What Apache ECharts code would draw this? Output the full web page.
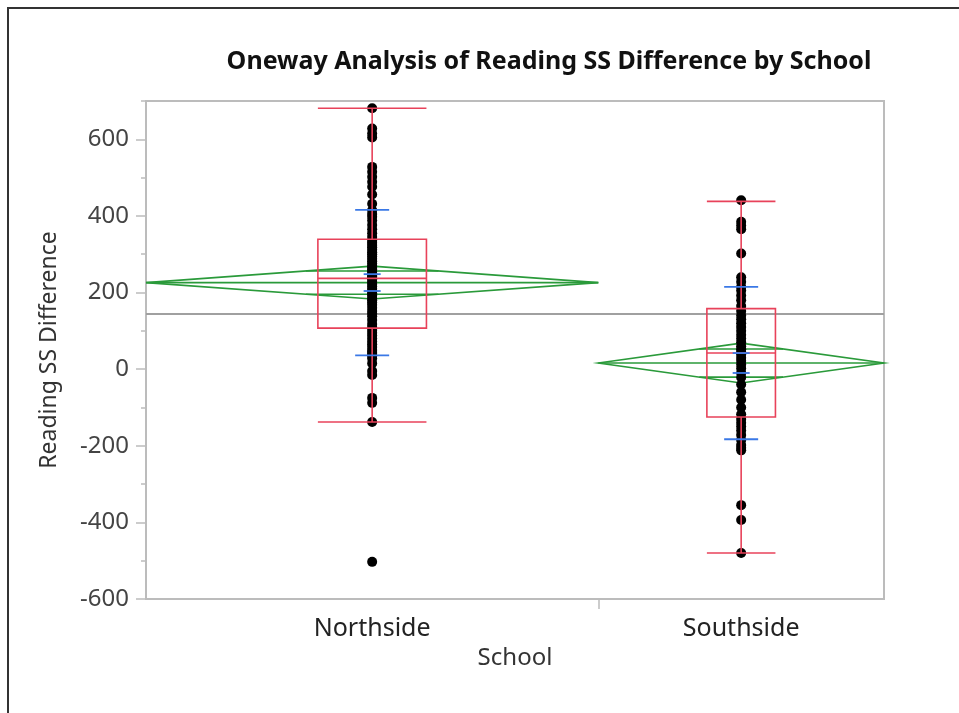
<!DOCTYPE html>
<html><head><meta charset="utf-8">
<script src="https://cdn.jsdelivr.net/npm/echarts@6/dist/echarts.min.js"></script>
<style>html,body{margin:0;padding:0;background:#fff}#c{width:959px;height:713px}</style>
</head><body><div id="c"></div>
<script>
// ---- data ----
const schools = ['Northside', 'Southside'];
const northsideValues = [
  681, 628, 615, 605, 528, 515, 502, 489, 476, 456, 432, 415, 405, 398, 388, 376, 365, 355, 345,
  335, 330, 324, 318, 312, 305, 300, 294, 288, 282, 276, 270, 265, 260, 255, 250, 246, 242, 238,
  234, 228, 222, 216, 210, 204, 198, 192, 186, 180, 174, 168, 160, 152, 145, 138, 128, 118, 110,
  102, 95, 88, 80, 72, 65, 58, 50, 45, 40, 35, 28, 15, -5, -15, -75, -88, -138, -503
];
const southsideValues = [
  441, 385, 375, 365, 302, 240, 228, 215, 205, 192, 180, 165,
  152, 140, 130, 120, 110, 100, 90, 80, 70, 60, 52, 45,
  38, 30, 22, 12, 2, -10, -22, -40, -60, -80, -100, -118,
  -130, -140, -150, -160, -172, -185, -198, -205, -212, -355, -394, -480
];
const yTicks = [-600, -400, -200, 0, 200, 400, 600];
const groupMeans = [226, 16];
const ciHalfWidths = [43, 52];
const stdDevs = [190, 199];
const stdErrs = [22, 26];
const boxMin = [-138, -480];
const boxQ1 = [107, -125];
const boxMedian = [237, 42];
const boxQ3 = [339, 158];
const boxMax = [681, 438];
const grandMean = 144;

// ---- derived ----
const groupValues = [northsideValues, southsideValues];
const widths = groupValues.map(a => a.length);
const starts = [];
let acc = 0;
widths.forEach(w => { starts.push(acc); acc += w; });
const total = acc;
const centers = widths.map((w, i) => starts[i] + w / 2);
const dividers = starts.slice(1);

const BOX_FRAC = 0.24;
const RED = '#e8425a', GREEN = '#2a9a3a', BLUE = '#3a78e6', GRAY = '#bcbcbc';

const scatterData = [];
groupValues.forEach((arr, g) => arr.forEach(v => scatterData.push([centers[g], v])));

const groupIdx = schools.map((s, i) => [i]);

function diamondRender(params, api) {
  const g = api.value(0);
  const x0 = starts[g], x1 = starts[g] + widths[g], c = centers[g];
  const m = groupMeans[g], h = ciHalfWidths[g];
  const pL = api.coord([x0, m]), pT = api.coord([c, m + h]), pR = api.coord([x1, m]), pB = api.coord([c, m - h]);
  const ov = h / Math.SQRT2;
  const ovHalf = (1 - 1 / Math.SQRT2) * widths[g] / 2;
  const style = { stroke: GREEN, fill: 'none', lineWidth: 1.6 };
  const children = [
    { type: 'polygon', shape: { points: [pL, pT, pR, pB] }, style },
    { type: 'line', shape: { x1: pL[0], y1: pL[1], x2: pR[0], y2: pR[1] }, style }
  ];
  [m + ov, m - ov].forEach(y => {
    const a = api.coord([c - ovHalf, y]), b = api.coord([c + ovHalf, y]);
    children.push({ type: 'line', shape: { x1: a[0], y1: a[1], x2: b[0], y2: b[1] }, style });
  });
  return { type: 'group', children };
}

function boxRender(params, api) {
  const g = api.value(0);
  const c = centers[g], hw = widths[g] * BOX_FRAC / 2;
  const tl = api.coord([c - hw, boxQ3[g]]), br = api.coord([c + hw, boxQ1[g]]);
  const style = { stroke: RED, fill: 'none', lineWidth: 1.6 };
  const hline = (v) => { const a = api.coord([c - hw, v]), b = api.coord([c + hw, v]); return { type: 'line', shape: { x1: a[0], y1: a[1], x2: b[0], y2: b[1] }, style }; };
  const vline = (v1, v2) => { const a = api.coord([c, v1]), b = api.coord([c, v2]); return { type: 'line', shape: { x1: a[0], y1: a[1], x2: b[0], y2: b[1] }, style }; };
  return { type: 'group', children: [
    { type: 'rect', shape: { x: tl[0], y: tl[1], width: br[0] - tl[0], height: br[1] - tl[1] }, style },
    hline(boxMedian[g]), hline(boxMin[g]), hline(boxMax[g]),
    vline(boxQ3[g], boxMax[g]), vline(boxMin[g], boxQ1[g])
  ] };
}

function blueRender(params, api) {
  const g = api.value(0);
  const c = centers[g], m = groupMeans[g];
  const style = { stroke: BLUE, fill: 'none', lineWidth: 1.8 };
  const children = [];
  const add = (v, halfPx) => { const p = api.coord([c, v]); children.push({ type: 'line', shape: { x1: p[0] - halfPx, y1: p[1], x2: p[0] + halfPx, y2: p[1] }, style }); };
  add(m + stdDevs[g], 17); add(m - stdDevs[g], 17);
  add(m + stdErrs[g], 8.5); add(m - stdErrs[g], 8.5);
  return { type: 'group', children };
}

const FONT = 'Noto Sans';
const chart = echarts.init(document.getElementById('c'), null, { renderer: 'canvas' });
chart.setOption({
  animation: false,
  backgroundColor: '#fff',
  title: {
    text: 'Oneway Analysis of Reading SS Difference by School',
    left: 544, top: 44, textAlign: 'center',
    textStyle: { fontFamily: FONT, fontSize: 25, fontWeight: 'bold', color: '#111' }
  },
  graphic: [{
    type: 'rect', z: 100, silent: true,
    shape: { x: 8, y: 8, width: 1200, height: 1200 },
    style: { fill: 'none', stroke: '#333', lineWidth: 2 }
  }],
  grid: { left: 146, top: 101, right: 75, bottom: 114, show: true, borderColor: GRAY, borderWidth: 2, backgroundColor: 'transparent' },
  xAxis: {
    type: 'value', min: 0, max: total,
    axisLine: { show: true, onZero: false, lineStyle: { color: GRAY, width: 2 } },
    axisTick: { show: true, customValues: dividers, length: 10, lineStyle: { color: GRAY, width: 1.5 } },
    axisLabel: {
      customValues: centers, margin: 17,
      formatter: v => { const i = centers.findIndex(c => Math.abs(c - v) < 1e-6); return i >= 0 ? schools[i] : ''; },
      fontFamily: FONT, fontSize: 25, color: '#222'
    },
    splitLine: { show: false },
    name: 'School', nameLocation: 'middle', nameGap: 47,
    nameTextStyle: { fontFamily: FONT, fontSize: 24, color: '#333' }
  },
  yAxis: [{
    type: 'value', min: -600, max: 700, interval: 200,
    axisLine: { show: true, onZero: false, lineStyle: { color: GRAY, width: 2 } },
    axisTick: { show: true, customValues: yTicks, length: 10, lineStyle: { color: GRAY, width: 1.5 } },
    axisLabel: { customValues: yTicks, margin: 17, fontFamily: FONT, fontSize: 24, color: '#444' },
    splitLine: { show: false },
    name: 'Reading SS Difference', nameLocation: 'middle', nameGap: 85,
    nameTextStyle: { fontFamily: FONT, fontSize: 23, color: '#333' }
  }, {
    type: 'value', min: -600, max: 700, interval: 100, position: 'left',
    axisLine: { show: false },
    axisTick: { show: true, length: 5, lineStyle: { color: GRAY, width: 1.5 } },
    axisLabel: { show: false }, splitLine: { show: false }
  }],
  series: [
    {
      type: 'line', name: 'grand mean', z: 1, symbol: 'none', silent: true,
      data: [[0, grandMean], [total, grandMean]],
      lineStyle: { color: '#a0a0a0', width: 2 }
    },
    { type: 'custom', name: 'means diamonds', z: 2, renderItem: diamondRender, data: groupIdx, silent: true },
    {
      type: 'scatter', name: 'points', z: 3, symbolSize: 10,
      itemStyle: { color: '#000', opacity: 1 }, data: scatterData
    },
    { type: 'custom', name: 'box plots', z: 4, renderItem: boxRender, data: groupIdx, silent: true },
    { type: 'custom', name: 'std dev', z: 5, renderItem: blueRender, data: groupIdx, silent: true }
  ]
});
</script>
</body></html>
